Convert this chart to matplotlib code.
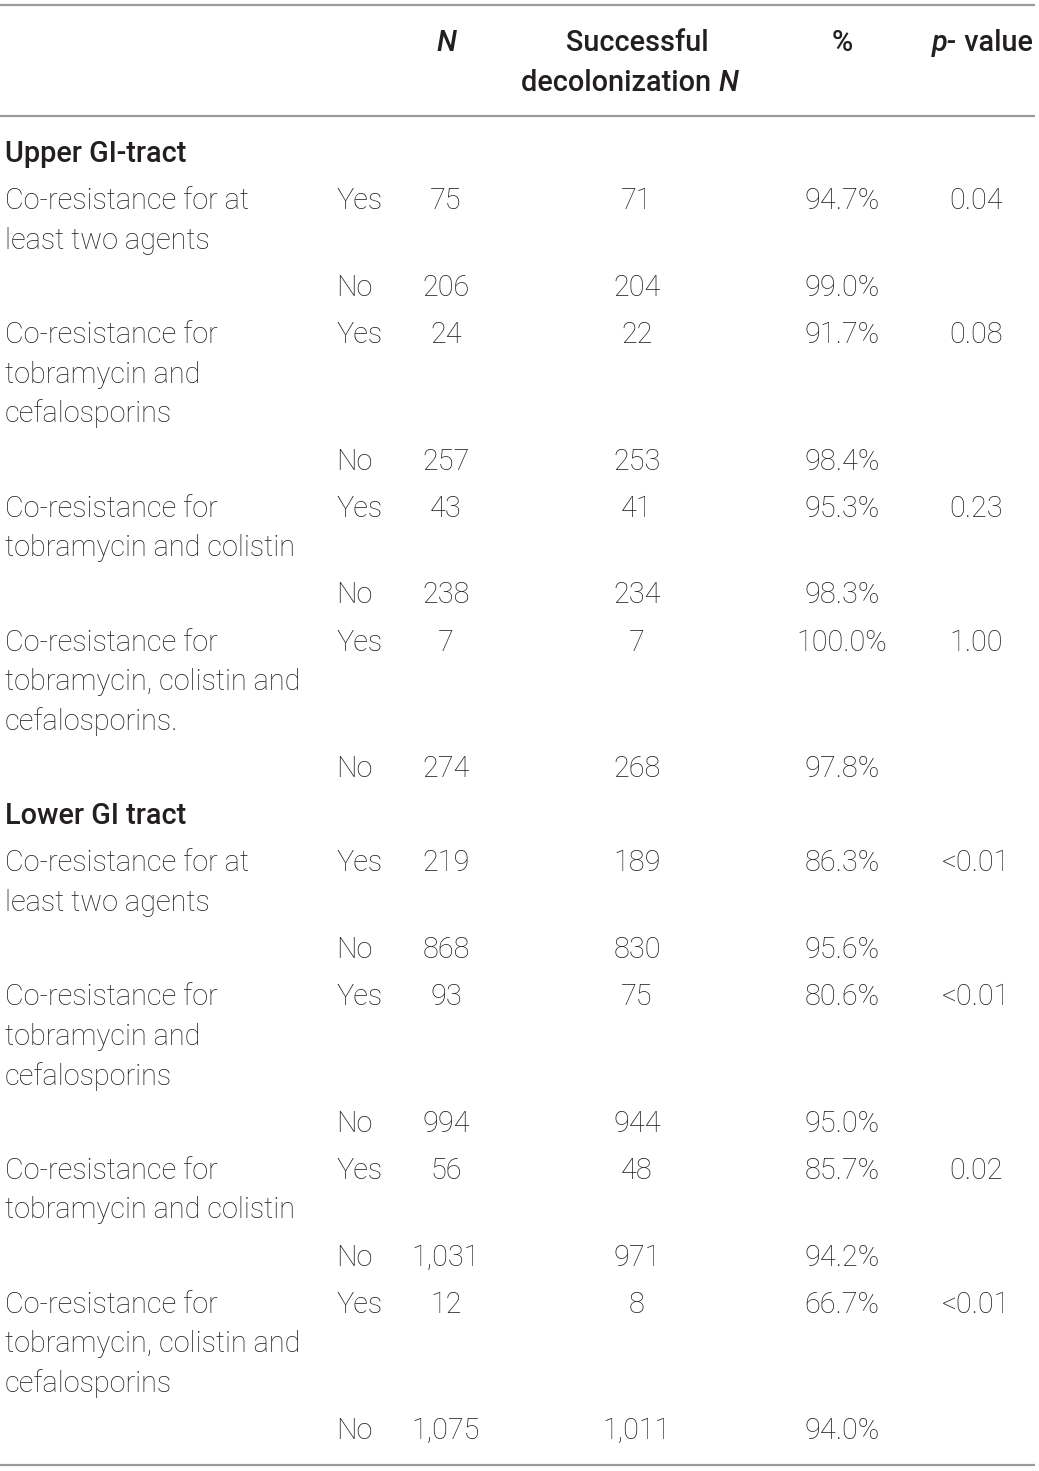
import matplotlib
matplotlib.use("Agg")
import matplotlib.pyplot as plt

# ---------------- data ----------------
sections = ["Upper GI-tract", "Lower GI tract"]

upper_labels = [
    ["Co-resistance for at", "least two agents"],
    ["Co-resistance for", "tobramycin and", "cefalosporins"],
    ["Co-resistance for", "tobramycin and colistin"],
    ["Co-resistance for", "tobramycin, colistin and", "cefalosporins."],
]
upper_n_yes = [75, 24, 43, 7]
upper_n_no = [206, 257, 238, 274]
upper_succ_yes = [71, 22, 41, 7]
upper_succ_no = [204, 253, 234, 268]
upper_pct_yes = [94.7, 91.7, 95.3, 100.0]
upper_pct_no = [99.0, 98.4, 98.3, 97.8]
upper_p = ["0.04", "0.08", "0.23", "1.00"]

lower_labels = [
    ["Co-resistance for at", "least two agents"],
    ["Co-resistance for", "tobramycin and", "cefalosporins"],
    ["Co-resistance for", "tobramycin and colistin"],
    ["Co-resistance for", "tobramycin, colistin and", "cefalosporins"],
]
lower_n_yes = [219, 93, 56, 12]
lower_n_no = [868, 994, 1031, 1075]
lower_succ_yes = [189, 75, 48, 8]
lower_succ_no = [830, 944, 971, 1011]
lower_pct_yes = [86.3, 80.6, 85.7, 66.7]
lower_pct_no = [95.6, 95.0, 94.2, 94.0]
lower_p = ["<0.01", "<0.01", "0.02", "<0.01"]

yes_no = ["Yes", "No"]

# ---------------- layout ----------------
W, H = 1039, 1471
fig = plt.figure(figsize=(W / 100, H / 100), dpi=100)
ax = fig.add_axes([0, 0, 1, 1])
ax.set_xlim(0, W)
ax.set_ylim(H, 0)
ax.axis("off")

FONT = "Roboto"
FS = 20.8
TXT = "#231f20"
LINE_C = "#9a9a9a"
HEAD_W = "medium"

X_LABEL, X_YN, X_N, X_S, X_PCT, X_P = 5, 336, 446, 637, 842, 976
LINE_STEP = 39.7
ROW_GAP = 47.1


def body(x, y, s, ha="left", weight="light"):
    return ax.text(x, y, s, ha=ha, va="baseline", fontsize=FS,
                   family=FONT, fontweight=weight, color=TXT)


# rules
for yl in (5, 116, 1465):
    ax.plot([0, 1035], [yl, yl], color=LINE_C, lw=1.6, solid_capstyle="butt")

# header
hb = dict(fontsize=FS, family=FONT, fontweight=HEAD_W, color=TXT, va="baseline")
ax.text(X_N, 51, "N", ha="center", style="italic", **hb)
ax.text(X_S, 51, "Successful", ha="center", **hb)
t = ax.text(521, 91, "decolonization ", ha="left", **hb)
ax.annotate("N", xy=(1, 0), xycoords=t, ha="left", va="bottom",
            style="italic", fontsize=FS, family=FONT, fontweight=HEAD_W, color=TXT)
ax.text(X_PCT, 51, "%", ha="center", **hb)
t2 = ax.text(1033, 51, " value", ha="right", **hb)
ax.annotate("p-", xy=(0, 0), xycoords=t2, ha="right", va="bottom",
            style="italic", fontsize=FS, family=FONT, fontweight=HEAD_W, color=TXT)

# body
y = 162.0
blocks = [
    (upper_labels, upper_n_yes, upper_n_no, upper_succ_yes, upper_succ_no,
     upper_pct_yes, upper_pct_no, upper_p),
    (lower_labels, lower_n_yes, lower_n_no, lower_succ_yes, lower_succ_no,
     lower_pct_yes, lower_pct_no, lower_p),
]
for sec, blk in zip(sections, blocks):
    labels, nys, nns, sys_, sns_, pys, pns, ps = blk
    body(X_LABEL, y, sec, weight=HEAD_W)
    y += ROW_GAP
    for lab, ny, nn, sy, sn, py, pn, p in zip(labels, nys, nns, sys_, sns_, pys, pns, ps):
        # Yes row
        for k, line in enumerate(lab):
            body(X_LABEL, y + k * LINE_STEP, line)
        body(X_YN, y, yes_no[0])
        body(X_N, y, f"{ny:,}", ha="center")
        body(X_S, y, f"{sy:,}", ha="center")
        body(X_PCT, y, f"{py:.1f}%", ha="center")
        body(X_P, y, p, ha="center")
        y += (len(lab) - 1) * LINE_STEP + ROW_GAP
        # No row
        body(X_YN, y, yes_no[1])
        body(X_N, y, f"{nn:,}", ha="center")
        body(X_S, y, f"{sn:,}", ha="center")
        body(X_PCT, y, f"{pn:.1f}%", ha="center")
        y += ROW_GAP

fig.savefig("out.png", dpi=100)
